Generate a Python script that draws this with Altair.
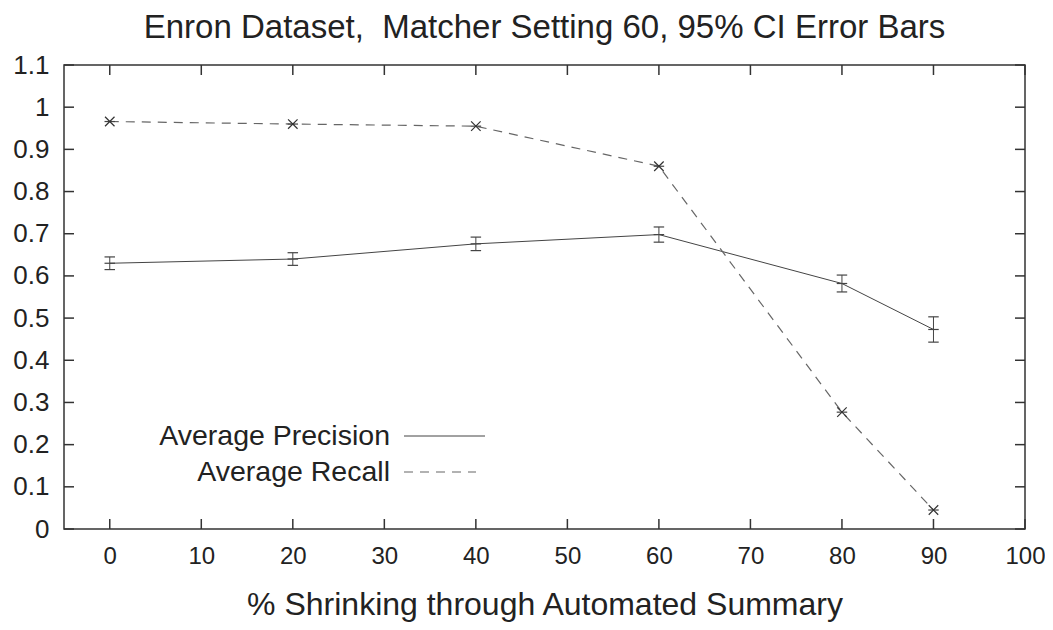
import altair as alt
import pandas as pd

shrink = [0, 20, 40, 60, 80, 90]
precision = [0.630, 0.640, 0.676, 0.698, 0.582, 0.473]
precision_err = [0.015, 0.015, 0.016, 0.018, 0.020, 0.030]
recall = [0.966, 0.960, 0.955, 0.860, 0.277, 0.045]
recall_err = [0.004, 0.004, 0.003, 0.004, 0.004, 0.003]

x_ticks = [0, 10, 20, 30, 40, 50, 60, 70, 80, 90, 100]
y_ticks = [0, 0.1, 0.2, 0.3, 0.4, 0.5, 0.6, 0.7, 0.8, 0.9, 1.0, 1.1]

legend_labels = ["Average Precision", "Average Recall"]

W, H = 961, 464
FONT = "Liberation Sans"
TXT = "#222222"

df = pd.DataFrame({
    "x": shrink,
    "p": precision,
    "plo": [v - e for v, e in zip(precision, precision_err)],
    "phi": [v + e for v, e in zip(precision, precision_err)],
    "r": recall,
    "rlo": [v - e for v, e in zip(recall, recall_err)],
    "rhi": [v + e for v, e in zip(recall, recall_err)],
})

xs = alt.Scale(domain=[-5, 100], nice=False, zero=False)
ys = alt.Scale(domain=[0, 1.1], nice=False, zero=False)

xaxis = alt.Axis(values=x_ticks, ticks=False, domain=False, grid=False,
                 labelFontSize=24, labelFont=FONT, labelColor=TXT, labelPadding=15,
                 title="% Shrinking through Automated Summary", titleFontSize=32,
                 titleFont=FONT, titleColor=TXT, titleFontWeight="normal", titlePadding=21,
                 labelFlush=False)
yaxis = alt.Axis(values=y_ticks, ticks=False, domain=False, grid=False,
                 labelFontSize=26, labelFont=FONT, labelColor=TXT, labelPadding=15,
                 title=None, format="~g")

base = alt.Chart(df)
PC = "#444444"

p_line = base.mark_line(color=PC, strokeWidth=1).encode(
    x=alt.X("x:Q", scale=xs, axis=xaxis),
    y=alt.Y("p:Q", scale=ys, axis=yaxis),
)
p_err = base.mark_rule(color=PC, strokeWidth=1).encode(
    x=alt.X("x:Q", scale=xs), y=alt.Y("plo:Q", scale=ys), y2="phi:Q")
cap = "M-1,0H1"
def capmark(field):
    return base.mark_point(shape=cap, size=110, filled=False, color=PC,
                           strokeWidth=1.2, opacity=1).encode(
        x=alt.X("x:Q", scale=xs), y=alt.Y(field, scale=ys))
p_cap_lo = capmark("plo:Q")
p_cap_hi = capmark("phi:Q")
p_cap_mid = capmark("p:Q")

r_line = base.mark_line(color="#666666", strokeWidth=1.2, strokeDash=[9, 7]).encode(
    x=alt.X("x:Q", scale=xs), y=alt.Y("r:Q", scale=ys))
r_pts = base.mark_point(shape="M-1,-1L1,1M1,-1L-1,1", size=90, filled=False,
                        color="#333333", strokeWidth=1.2, opacity=1).encode(
    x=alt.X("x:Q", scale=xs), y=alt.Y("r:Q", scale=ys))
r_cap = capmark("r:Q")

# inward ticks on all four sides
xt = alt.Chart(pd.DataFrame({"v": x_ticks}))
yt = alt.Chart(pd.DataFrame({"v": y_ticks}))
tick_col = "#333333"
xb = xt.mark_rule(color=tick_col, strokeWidth=1.5).encode(
    x=alt.X("v:Q", scale=xs), y=alt.value(H), y2=alt.value(H - 10))
xtop = xt.mark_rule(color=tick_col, strokeWidth=1.5).encode(
    x=alt.X("v:Q", scale=xs), y=alt.value(0), y2=alt.value(10))
yl = yt.mark_rule(color=tick_col, strokeWidth=1.5).encode(
    y=alt.Y("v:Q", scale=ys), x=alt.value(0), x2=alt.value(10))
yr = yt.mark_rule(color=tick_col, strokeWidth=1.5).encode(
    y=alt.Y("v:Q", scale=ys), x=alt.value(W), x2=alt.value(W - 10))

# legend drawn inside the plot
leg = alt.Chart(pd.DataFrame({"label": legend_labels}))
leg_p_text = leg.transform_filter(alt.datum.label == legend_labels[0]).mark_text(
    align="right", baseline="middle", fontSize=28.5, font=FONT, color=TXT).encode(
    text="label:N", x=alt.value(326), y=alt.value(371))
leg_r_text = leg.transform_filter(alt.datum.label == legend_labels[1]).mark_text(
    align="right", baseline="middle", fontSize=28.5, font=FONT, color=TXT).encode(
    text="label:N", x=alt.value(326), y=alt.value(407))
leg_p = leg.transform_filter(alt.datum.label == legend_labels[0]).mark_rule(
    color=PC, strokeWidth=1).encode(x=alt.value(340), x2=alt.value(421), y=alt.value(371))
leg_r = leg.transform_filter(alt.datum.label == legend_labels[1]).mark_rule(
    color="#666666", strokeWidth=1.2, strokeDash=[9, 7]).encode(
    x=alt.value(340), x2=alt.value(412), y=alt.value(407))

chart = alt.layer(
    p_line, p_err, p_cap_lo, p_cap_hi, p_cap_mid, r_line, r_cap, r_pts,
    xb, xtop, yl, yr, leg_p_text, leg_r_text, leg_p, leg_r,
).properties(
    width=W, height=H,
    title=alt.TitleParams("Enron Dataset,\u00a0 Matcher Setting 60, 95% CI Error Bars",
                          fontSize=33, font=FONT, color=TXT, fontWeight="normal",
                          anchor="middle", offset=7),
    autosize=alt.AutoSizeParams(type="none"),
    padding={"left": 56, "top": 57, "right": 20, "bottom": 93},
    background="white",
).configure_view(stroke="#333333", strokeWidth=1.5)

chart.save("out.html", embed_options={"renderer": "svg", "actions": False})
